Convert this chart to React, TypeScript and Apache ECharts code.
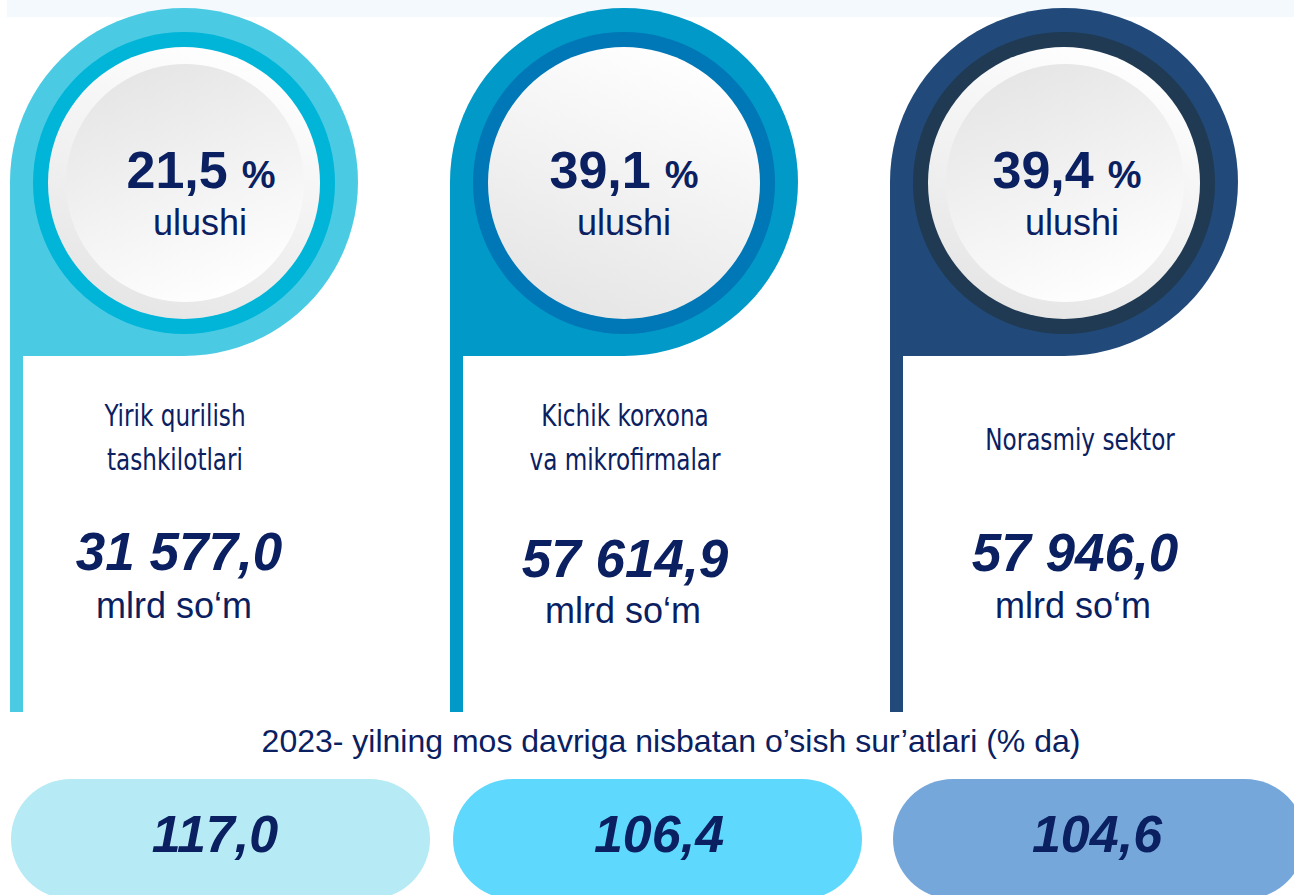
import React, { useEffect, useRef } from "react";
import * as echarts from "echarts";

// ---------- data ----------
const categories = ["Yirik qurilish\ntashkilotlari", "Kichik korxona\nva mikrofirmalar", "Norasmiy sektor"];
const shares = [21.5, 39.1, 39.4];
const volumes = [31577.0, 57614.9, 57946.0];
const growth = [117.0, 106.4, 104.6];
const shareWord = "ulushi";
const volumeUnit = "mlrd so‘m";
const subtitle = "2023- yilning mos davriga nisbatan o’sish sur’atlari (% da)";

// ---------- styles / layout ----------
const outerColors = ["#4bcbe3", "#0099c8", "#214a7a"];
const ringColors = ["#00b5d8", "#0077b6", "#1f3a52"];
const pillColors = ["#b6eaf4", "#5fd8fd", "#76a7da"];
const innerDisc = [true, false, true];
const shareDx = [17, 0, 3];
const wordDx = [16, 0, 8];
const labelDx = [-9, 1, 16];
const volumeDx = [-5, 1, 11];
const unitDx = [-10, -1, 9];
const volumeBase = [570, 577, 571];
const unitBase = [618, 623, 618];
const pillDx = [-173, -171, -171];
const pillW = [419, 409, 412];
const pillTextDx = [31, 35, 33];

const NAVY = "#0a2061";
const SANS = '"Liberation Sans", Arial, sans-serif';
const NARROW = '"DejaVu Sans Condensed", "Liberation Sans Narrow", sans-serif';
const LABEL_SIZE = 31;
const LABEL_SCALE_X = 0.83;

const fmt = (v: number) => {
  const [i, d] = v.toFixed(1).split(".");
  return i.replace(/\B(?=(\d{3})+(?!\d))/g, " ") + "," + d;
};

const canvasCtx = typeof document !== "undefined" ? document.createElement("canvas").getContext("2d") : null;
const measure = (t: string, font: string) => {
  if (!canvasCtx) return t.length * 20;
  canvasCtx.font = font;
  return canvasCtx.measureText(t).width;
};

// baseline -> center y for verticalAlign middle
const midY = (baseline: number, size: number) => baseline - 0.3465 * size;

function txt(text: string, x: number, baseline: number, size: number, opts: any = {}) {
  return {
    type: "text",
    style: {
      text,
      x,
      y: midY(baseline, size),
      align: opts.align || "center",
      verticalAlign: "middle",
      fontSize: size,
      fontFamily: opts.family || SANS,
      fontWeight: opts.weight || "normal",
      fontStyle: opts.italic ? "italic" : "normal",
      fill: NAVY,
    },
  };
}

function narrowTxt(text: string, x: number, baseline: number) {
  return {
    type: "text",
    x,
    y: midY(baseline, LABEL_SIZE),
    scaleX: LABEL_SCALE_X,
    style: {
      text,
      x: 0,
      y: 0,
      align: "center",
      verticalAlign: "middle",
      fontSize: LABEL_SIZE,
      fontFamily: NARROW,
      fill: NAVY,
    },
  };
}

export default function App() {
  const ref = useRef<HTMLDivElement>(null);

  useEffect(() => {
    if (!ref.current) return;
    const chart = echarts.init(ref.current, undefined, { renderer: "svg" });

    const renderItem = (params: any, api: any) => {
      const i = api.value(0);
      const cx = api.coord([i, 0])[0];
      const cy = 182;
      const R = 174;
      const children: any[] = [];

      // card outer "pin" shape
      const oc = outerColors[i];
      children.push({ type: "circle", shape: { cx, cy, r: R }, style: { fill: oc } });
      children.push({ type: "rect", shape: { x: cx - R, y: cy, width: R, height: R }, style: { fill: oc } });
      children.push({ type: "rect", shape: { x: cx - R, y: cy, width: 13, height: 712 - cy }, style: { fill: oc } });

      // ring and disc
      children.push({ type: "circle", shape: { cx, cy: cy + 1, r: 151 }, style: { fill: ringColors[i] } });
      children.push({
        type: "circle",
        shape: { cx, cy: cy + 1, r: 136 },
        style: {
          fill: {
            type: "linear", x: 0.7, y: 0, x2: 0.3, y2: 1,
            colorStops: [{ offset: 0, color: "#ffffff" }, { offset: 1, color: "#e5e5e5" }],
          },
        },
      });
      if (innerDisc[i]) {
        children.push({
          type: "circle",
          shape: { cx: cx + 1, cy: cy + 1, r: 119 },
          style: {
            fill: {
              type: "linear", x: 0.3, y: 0, x2: 0.7, y2: 1,
              colorStops: [{ offset: 0, color: "#e5e5e5" }, { offset: 1, color: "#ffffff" }],
            },
          },
        });
      }

      // share text
      const nText = fmt(shares[i]);
      const nFont = `bold 52px ${SANS}`;
      const pFont = `bold 38px ${SANS}`;
      const wn = measure(nText, nFont);
      const wp = measure("%", pFont);
      const gap = 14;
      const left = cx + shareDx[i] - (wn + gap + wp) / 2;
      children.push(txt(nText, left, 188, 52, { align: "left", weight: "bold" }));
      children.push(txt("%", left + wn + gap, 188, 38, { align: "left", weight: "bold" }));
      children.push(txt(shareWord, cx + wordDx[i], 235, 36));

      // category label
      const lines = categories[i].split("\n");
      if (lines.length === 1) {
        children.push(narrowTxt(lines[0], cx + labelDx[i], 450));
      } else {
        children.push(narrowTxt(lines[0], cx + labelDx[i], 426));
        children.push(narrowTxt(lines[1], cx + labelDx[i], 470));
      }

      // volume
      children.push(txt(fmt(volumes[i]), cx + volumeDx[i], volumeBase[i], 53, { weight: "bold", italic: true }));
      children.push(txt(volumeUnit, cx + unitDx[i], unitBase[i], 36));

      // growth pill
      children.push({
        type: "rect",
        shape: { x: cx + pillDx[i], y: 779, width: pillW[i], height: 120, r: 60 },
        style: { fill: pillColors[i] },
      });
      children.push(txt(fmt(growth[i]), cx + pillTextDx[i], 852, 52, { weight: "bold", italic: true }));

      return { type: "group", children };
    };

    chart.setOption({
      animation: false,
      grid: { left: 184, right: 230, top: 0, bottom: 0 },
      xAxis: { type: "category", data: categories, show: false, boundaryGap: false },
      yAxis: { type: "value", min: 0, max: 100, show: false },
      graphic: [
        { type: "rect", shape: { x: 7, y: 0, width: 1287, height: 17 }, style: { fill: "#f4f9fe" }, z: -1 },
        {
          type: "text",
          style: {
            text: subtitle,
            x: 671,
            y: midY(752, 32),
            align: "center",
            verticalAlign: "middle",
            fontSize: 32,
            fontFamily: SANS,
            fill: NAVY,
          },
        },
      ],
      series: [
        {
          type: "custom",
          renderItem,
          data: categories.map((_, k) => [k, shares[k]]),
          clip: false,
        },
      ],
    });

    return () => chart.dispose();
  }, []);

  return (
    <div
      ref={ref}
      style={{ position: "absolute", left: 0, top: 0, width: 1294, height: 895, background: "#ffffff" }}
    />
  );
}
